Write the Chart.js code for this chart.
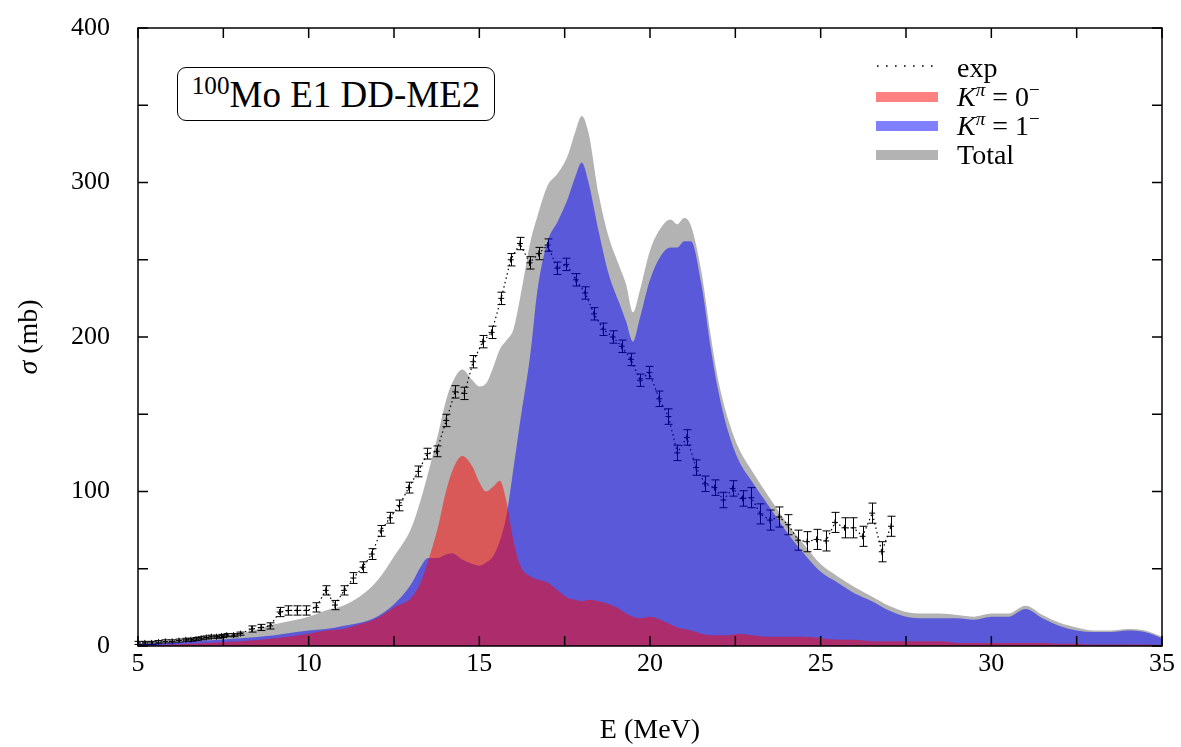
<!DOCTYPE html>
<html>
<head>
<meta charset="utf-8">
<script src="https://cdn.jsdelivr.net/npm/chart.js@4.4.0/dist/chart.umd.min.js"></script>
<style>
  body { margin: 0; background: #fff; }
  #wrap { position: relative; width: 1181px; height: 747px; font-family: 'Liberation Serif', 'DejaVu Serif', serif; color: #000; }
  canvas { position: absolute; left: 0; top: 0; }
  .caja { position: absolute; left: 177px; top: 67px; width: 316px; height: 52px; border: 1px solid #000; border-radius: 9px;
          font-size: 37px; line-height: 54px; text-align: center; background: #fff; }
  .muestra { position: absolute; left: 876px; width: 62px; height: 10px; }
  .texto { position: absolute; left: 957px; font-size: 28px; line-height: 29px; white-space: nowrap; }
  .tituloY { position: absolute; left: -32px; top: 321px; width: 120px; height: 32px; line-height: 32px; font-size: 28px;
             text-align: center; transform: rotate(-90deg); }
  sup { font-size: 0.68em; line-height: 0; vertical-align: 0.5em; }
  i { font-style: italic; }
</style>
</head>
<body>
<div id="wrap">
  <canvas id="myChart" width="1181" height="747"></canvas>
  <div class="caja"><sup>100</sup>Mo E1 DD-ME2</div>
  <div class="tituloY"><i>σ</i> (mb)</div>

  <svg style="position:absolute;left:876px;top:62px" width="62" height="8">
    <line x1="1" y1="4" x2="62" y2="4" stroke="#000" stroke-width="1.6" stroke-dasharray="1.6 7.4"/>
  </svg>
  <div class="texto" style="top:53px">exp</div>
  <div class="muestra" style="top:92px;background:#ff8080"></div>
  <div class="texto" style="top:82px"><i>K</i><sup><i>π</i></sup> = 0<sup>−</sup></div>
  <div class="muestra" style="top:121px;background:#8080ff"></div>
  <div class="texto" style="top:111px"><i>K</i><sup><i>π</i></sup> = 1<sup>−</sup></div>
  <div class="muestra" style="top:150px;background:#b3b3b3"></div>
  <div class="texto" style="top:140px">Total</div>
</div>

<script>
// malla de energias (MeV) para las curvas teoricas
const energias = [5, 6, 7, 8, 9, 10, 10.5, 11, 11.5, 12, 12.5, 13,
  13.3, 13.5, 13.8, 14.0, 14.2, 14.5, 14.8, 15.0, 15.2, 15.4, 15.6, 15.8,
  16.0, 16.2, 16.5, 16.7, 17.0, 17.3, 17.6, 17.8, 18.0, 18.2, 18.5, 18.8,
  19.1, 19.3, 19.5, 19.7, 20.0, 20.3, 20.6, 20.8, 21.0, 21.2, 21.5, 21.8,
  22.0, 22.3, 22.6, 23.0, 23.5, 24.0, 24.5, 25.0, 25.5, 26.0, 26.5, 27.0,
  27.5, 28, 28.5, 29, 29.5, 30, 30.5, 31, 31.5, 32, 32.5, 33,
  33.5, 34, 34.5, 35];

// K = 0- (rojo)
const k0Vals = [0.5, 1, 2, 3, 5, 8, 10, 11, 14, 18, 25, 31,
  42, 55, 78, 98, 113, 123, 116, 106, 100, 103, 107, 93,
  68, 52, 45, 43, 41, 36, 31, 30, 29, 30, 29, 27,
  24, 21, 19, 18, 19, 17, 14, 12, 11, 10, 8, 7,
  7, 7, 8, 7, 6, 6, 6, 5, 4, 4, 3, 3,
  3, 3, 3, 2, 2, 2, 2, 2, 2, 1.5, 1.5, 1,
  1, 1, 1, 0.5];

// K = 1- (azul)
const k1Vals = [1, 2, 3.5, 5, 7, 10, 11, 13, 15, 19, 27, 40,
  52, 57, 57, 59, 60, 56, 53, 52, 54, 58, 68, 85,
  115, 146, 190, 230, 262, 275, 290, 303, 313, 300, 268, 240,
  222, 210, 197, 212, 237, 252, 258, 258, 262, 262, 235, 190,
  165, 138, 120, 106, 90, 74, 60, 48, 41, 34, 29, 23,
  19, 18, 18, 18, 17, 19, 19, 24, 18, 13, 10, 9,
  9, 10, 9, 5];

// total (gris)
const totalVals = [2, 3, 5.5, 8, 14, 19, 23, 26, 32, 42, 58, 76,
  96, 112, 138, 157, 170, 179, 172, 168, 170, 180, 192, 198,
  205, 226, 262, 278, 298, 306, 318, 332, 343, 332, 292, 264,
  246, 234, 216, 230, 256, 270, 276, 273, 277, 272, 243, 198,
  172, 146, 128, 113, 96, 80, 66, 53, 45, 38, 32, 26,
  22, 21, 21, 20, 19, 21, 21, 26, 20, 15, 12, 10,
  10, 11, 10, 6];

// datos experimentales
const expE = [5.0, 5.2, 5.4, 5.6, 5.8, 6.0, 6.2, 6.4, 6.55, 6.7, 6.85, 7.0, 7.15, 7.3, 7.45, 7.6, 7.8, 8.0,
  8.33, 8.6, 8.87, 9.15, 9.4, 9.66, 9.93, 10.22, 10.5, 10.77, 11.04, 11.31, 11.58, 11.85, 12.12, 12.38,
  12.66, 12.93, 13.21, 13.48, 13.75, 14.03, 14.29, 14.56, 14.82, 15.1, 15.36, 15.64, 15.92, 16.19, 16.47,
  16.74, 17.0, 17.28, 17.55, 17.83, 18.1, 18.36, 18.63, 18.91, 19.17, 19.44, 19.71, 19.98, 20.27, 20.54,
  20.8, 21.08, 21.35, 21.61, 21.89, 22.15, 22.42, 22.71, 22.97, 23.23, 23.51, 23.78, 24.05, 24.34, 24.6,
  24.88, 25.16, 25.42, 25.7, 25.96, 26.23, 26.51, 26.79, 27.06];
const expSigma = [2, 2, 2, 2.5, 3, 3, 3.5, 4, 4, 4.5, 5, 5.5, 6, 6, 6.5, 7, 7, 8,
  11, 12, 13, 22, 23, 23, 23, 25, 36, 26.5, 36, 44, 51, 59.5, 74.5, 83,
  91, 102.5, 113, 124.5, 126, 146, 164.5, 163.5, 184, 197, 203, 225, 250, 260.5, 248,
  254, 259.5, 244.5, 247, 237, 228.5, 215, 205, 200, 194, 185.5, 172, 177, 160, 148.5,
  125, 135, 115.5, 105, 102.5, 94.5, 102, 95.5, 96, 85.5, 81.5, 83.5, 78.5, 68.5, 67.5,
  69, 68, 80, 76.5, 76.5, 71, 86, 61, 77.5];
const expErr = [1, 1, 1, 1, 1, 1, 1, 1, 1, 1, 1, 1, 1, 1, 1, 1, 1, 1,
  2, 2, 2, 3, 3, 3, 3, 3, 3, 3, 3, 3.5, 3.5, 3.5, 3.5, 3.5,
  3.5, 3.5, 3.5, 3.5, 3.5, 4, 4, 4, 4, 4, 4, 4, 4, 4, 4,
  4, 4, 4, 4, 4, 4, 4, 4, 4, 4, 4, 4, 4, 5, 5,
  5, 5, 5, 5, 5, 5, 5, 5, 6.5, 6.5, 6.5, 6.5, 6.5, 6.5, 6.5,
  6.5, 6.5, 6.5, 6.5, 6.5, 6.5, 6.5, 6.5, 6.5];

const fuente = "'Liberation Serif', 'DejaVu Serif', serif";

//juntamos x e y para chart.js
const puntos = (xs, ys) => xs.map((x, i) => ({ x: x, y: ys[i] }));

// barras de error de los datos exp (se pintan justo despues del dataset exp, antes del azul)
const barrasError = {
  id: 'barrasError',
  afterDatasetDraw(chart, args) {
    if (chart.data.datasets[args.index].label !== 'exp') return;
    const ctx = chart.ctx;
    const sx = chart.scales.x, sy = chart.scales.y;
    ctx.save();
    ctx.strokeStyle = '#000';
    ctx.lineWidth = 1;
    expE.forEach((e, i) => {
      const px = Math.round(sx.getPixelForValue(e)) + 0.5;
      const y1 = sy.getPixelForValue(expSigma[i] - expErr[i]);
      const y2 = sy.getPixelForValue(expSigma[i] + expErr[i]);
      ctx.beginPath();
      ctx.moveTo(px, y1); ctx.lineTo(px, y2);
      ctx.moveTo(px - 4, y1); ctx.lineTo(px + 4, y1);
      ctx.moveTo(px - 4, y2); ctx.lineTo(px + 4, y2);
      ctx.stroke();
    });
    ctx.restore();
  }
};

// marco y ticks hacia dentro en los cuatro lados (estilo gnuplot)
const ticksDentro = {
  id: 'ticksDentro',
  afterDraw(chart) {
    const ctx = chart.ctx;
    const a = chart.chartArea;
    const sx = chart.scales.x, sy = chart.scales.y;
    ctx.save();
    ctx.strokeStyle = '#000';
    ctx.lineWidth = 1.5;
    ctx.beginPath();
    sx.ticks.forEach(t => {
      const px = sx.getPixelForValue(t.value);
      ctx.moveTo(px, a.bottom); ctx.lineTo(px, a.bottom - 10);
      ctx.moveTo(px, a.top); ctx.lineTo(px, a.top + 10);
    });
    sy.ticks.forEach(t => {
      const py = sy.getPixelForValue(t.value);
      ctx.moveTo(a.left, py); ctx.lineTo(a.left + 10, py);
      ctx.moveTo(a.right, py); ctx.lineTo(a.right - 10, py);
    });
    ctx.stroke();
    ctx.strokeRect(a.left, a.top, a.right - a.left, a.bottom - a.top);
    ctx.restore();
  }
};

function CreateChart() {
  const ctx = document.getElementById('myChart');
  const curva = {
    pointRadius: 0,
    borderWidth: 1,
    borderColor: 'rgba(0,0,0,0)',
    fill: 'origin',
    cubicInterpolationMode: 'monotone'
  };
  new Chart(ctx, {
    type: 'line',
    data: {
      datasets: [
        Object.assign({ label: 'K0', data: puntos(energias, k0Vals), backgroundColor: 'rgba(255,0,0,0.5)', order: 1 }, curva),
        Object.assign({ label: 'K1', data: puntos(energias, k1Vals), backgroundColor: 'rgba(0,0,255,0.5)', order: 2 }, curva),
        {
          label: 'exp',
          data: puntos(expE, expSigma),
          borderColor: '#000',
          borderWidth: 1.2,
          borderDash: [1.5, 3],
          pointStyle: 'cross',
          pointRadius: 3,
          pointBorderWidth: 1,
          pointBorderColor: '#000',
          fill: false,
          order: 3
        },
        Object.assign({ label: 'Total', data: puntos(energias, totalVals), backgroundColor: '#b3b3b3', order: 4 }, curva)
      ]
    },
    options: {
      responsive: false,
      animation: false,
      devicePixelRatio: 1,
      layout: { padding: { top: 28, right: 19, left: 0, bottom: 0 } },
      plugins: { legend: { display: false }, tooltip: { enabled: false } },
      scales: {
        x: {
          type: 'linear', min: 5, max: 35,
          grid: { display: false, drawTicks: false },
          border: { display: false },
          ticks: {
            stepSize: 2.5, autoSkip: false, maxRotation: 0, padding: 3,
            color: '#000', font: { family: fuente, size: 26 },
            callback: v => (v % 5 === 0 ? v : '')
          },
          title: { display: true, text: 'E (MeV)', color: '#000', font: { family: fuente, size: 28 }, padding: { top: 0, bottom: 0 } },
          afterFit: s => { s.height = 101; }
        },
        y: {
          min: 0, max: 400,
          grid: { display: false, drawTicks: false },
          border: { display: false },
          ticks: {
            stepSize: 50, autoSkip: false, padding: 28,
            color: '#000', font: { family: fuente, size: 26 },
            callback: v => (v % 100 === 0 ? v : '')
          },
          // ancho fijo y sin el padding extra que chart.js mete arriba por la etiqueta
          afterFit: s => { s.width = 138; s.paddingTop = 14; s.paddingBottom = 14; }
        }
      }
    },
    plugins: [barrasError, ticksDentro]
  });
}

CreateChart();
</script>
</body>
</html>
